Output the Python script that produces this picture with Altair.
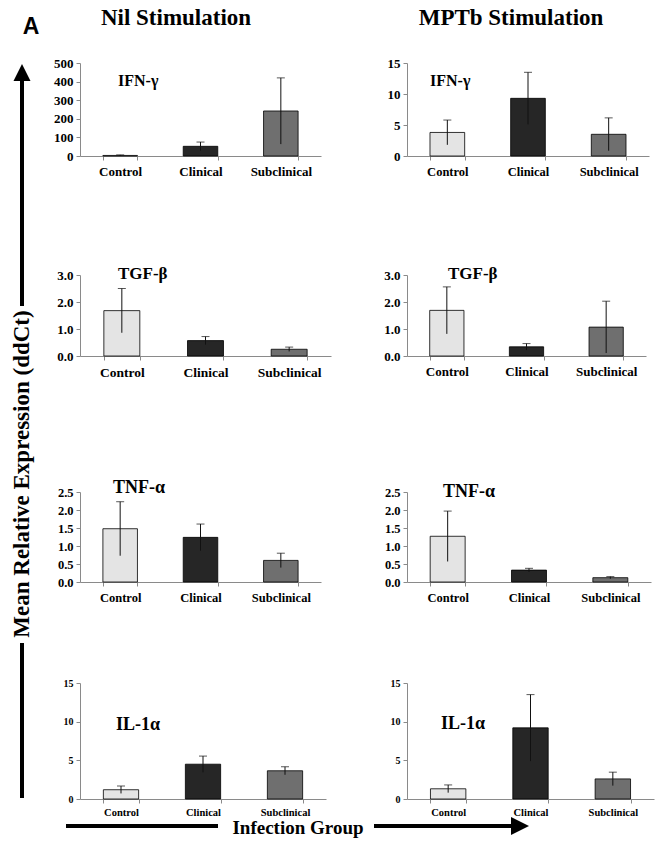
import altair as alt
import pandas as pd

groups = ["Control", "Clinical", "Subclinical"]
bar_colors = ["#e4e4e4", "#262626", "#6f6f6f"]

nil_ifn_mean = [3, 52, 242]
nil_ifn_err = [3, 23, 178]
mptb_ifn_mean = [3.8, 9.3, 3.5]
mptb_ifn_err = [2.0, 4.2, 2.65]
nil_tgf_mean = [1.68, 0.57, 0.25]
nil_tgf_err = [0.82, 0.15, 0.08]
mptb_tgf_mean = [1.69, 0.34, 1.07]
mptb_tgf_err = [0.87, 0.12, 0.96]
nil_tnf_mean = [1.48, 1.24, 0.60]
nil_tnf_err = [0.75, 0.37, 0.20]
mptb_tnf_mean = [1.27, 0.33, 0.12]
mptb_tnf_err = [0.70, 0.05, 0.03]
nil_il1_mean = [1.2, 4.5, 3.65]
nil_il1_err = [0.48, 1.05, 0.52]
mptb_il1_mean = [1.32, 9.2, 2.6]
mptb_il1_err = [0.5, 4.3, 0.87]

ticks_ifn_nil = [0, 100, 200, 300, 400, 500]
ticks_ifn_mptb = [0, 5, 10, 15]
ticks_tgf = [0.0, 1.0, 2.0, 3.0]
ticks_tnf = [0.0, 0.5, 1.0, 1.5, 2.0, 2.5]
ticks_il1 = [0, 5, 10, 15]

col_titles = ["Nil Stimulation", "MPTb Stimulation"]
y_title = "Mean Relative Expression (ddCt)"
x_title = "Infection Group"

SERIF = "Liberation Serif, Times New Roman, Times, DejaVu Serif, serif"
SANS = "Liberation Sans, Arial, Helvetica, sans-serif"
AX = "#8a8a8a"
one = pd.DataFrame({"k": [0]})


def txt(text, x, y, size, font=SERIF, angle=0, align="center"):
    return alt.Chart(one).mark_text(
        text=text, font=font, fontWeight="bold", fontSize=size, angle=angle,
        align=align, baseline="middle", color="black"
    ).encode(x=alt.value(x), y=alt.value(y))


def seg(x1, y1, x2, y2, w=4):
    return alt.Chart(one).mark_rule(color="black", strokeWidth=w).encode(
        x=alt.value(x1), x2=alt.value(x2), y=alt.value(y1), y2=alt.value(y2))


def head(x, y, shape, size):
    return alt.Chart(one).mark_point(
        shape=shape, filled=True, size=size, color="black", opacity=1,
        strokeWidth=0).encode(x=alt.value(x), y=alt.value(y))


def panel(label, means, errs, ticks, fmt, width, height, lab_dx, lab_dy,
          lab_size, xsize, ysize, xpad=5, extra=None):
    df = pd.DataFrame({"group": groups, "mean": means, "err": errs})
    df["lo"] = df["mean"] - df["err"]
    df["hi"] = df["mean"] + df["err"]
    xaxis = alt.Axis(title=None, labelAngle=0, labelFont=SERIF,
                     labelFontWeight="bold", labelFontSize=xsize,
                     labelColor="black", domainColor=AX, tickColor=AX,
                     tickSize=4, tickBand="extent", labelPadding=xpad)
    yaxis = alt.Axis(title=None, values=ticks, format=fmt, grid=False,
                     labelFont=SERIF, labelFontWeight="bold",
                     labelFontSize=ysize, labelColor="black",
                     domainColor=AX, tickColor=AX, tickSize=4,
                     labelPadding=3, labelOverlap=False)
    xs = alt.Scale(domain=groups, paddingInner=0.57, paddingOuter=0.285)
    ys = alt.Scale(domain=[ticks[0], ticks[-1]], nice=False)
    X = alt.X("group:N", sort=groups, scale=xs, axis=xaxis)
    base = alt.Chart(df)
    bars = base.mark_bar(stroke="black", strokeWidth=0.8).encode(
        x=X,
        y=alt.Y("mean:Q", scale=ys, axis=yaxis),
        fill=alt.Fill("group:N", scale=alt.Scale(domain=groups, range=bar_colors),
                      legend=None),
    )
    rules = base.mark_rule(color="#111", strokeWidth=1).encode(
        x=X, y=alt.Y("lo:Q", scale=ys, axis=yaxis), y2="hi:Q")
    caps = base.mark_tick(color="#111", size=8, thickness=1,
                          orient="horizontal").encode(
        x=X, y=alt.Y("hi:Q", scale=ys, axis=yaxis))
    lab = txt(label, lab_dx, lab_dy, lab_size, align="left")
    layers = [bars, rules, caps, lab] + (extra or [])
    return alt.layer(*layers).properties(width=width, height=height)


# figure decorations, positioned relative to the first panel
decor = [
    alt.Chart(one).mark_rule(strokeOpacity=0).encode(
        x=alt.value(-79), x2=alt.value(-79), y=alt.value(-62), y2=alt.value(-62)),
    txt("A", -49, -36, 23, font=SANS),
    txt(col_titles[0], 96, -45, 23),
    txt(col_titles[1], 431, -45, 23),
    head(-58, 9.5, "M0,-1L1,1L-1,1Z", 289),
    seg(-58, 15, -58, 243),
    txt(y_title, -58, 411, 23, angle=270),
    seg(-58, 580, -58, 735),
    seg(-14, 763, 138, 763),
    txt(x_title, 218, 765, 19),
    seg(294, 763, 433, 763),
    head(440, 763, "M1,0L-1,-1L-1,1Z", 324),
]


def spacer(h):
    return alt.Chart(one).mark_point(opacity=0).encode(
        x=alt.value(0), y=alt.value(0)).properties(width=1, height=h)


cells = [
    panel("IFN-γ", nil_ifn_mean, nil_ifn_err, ticks_ifn_nil, "d", 241, 93,
          38, 18, 16, 13, 13, extra=decor),
    panel("IFN-γ", mptb_ifn_mean, mptb_ifn_err, ticks_ifn_mptb, "d", 242, 93,
          23, 18, 16, 12.5, 13),
    spacer(119), spacer(119),
    panel("TGF-β", nil_tgf_mean, nil_tgf_err, ticks_tgf, ".1f", 251, 81,
          38, -1, 17, 13.5, 13),
    panel("TGF-β", mptb_tgf_mean, mptb_tgf_err, ticks_tgf, ".1f", 239, 81,
          41, -1, 17, 13, 13),
    spacer(136), spacer(136),
    panel("TNF-α", nil_tnf_mean, nil_tnf_err, ticks_tnf, ".1f", 241, 90,
          33, -4, 18, 12.5, 12.5),
    panel("TNF-α", mptb_tnf_mean, mptb_tnf_err, ticks_tnf, ".1f", 244, 90,
          36, 0, 18, 12.5, 12.5),
    spacer(101), spacer(101),
    panel("IL-1α", nil_il1_mean, nil_il1_err, ticks_il1, "d", 246, 116,
          36, 42, 18, 10.5, 10, xpad=4),
    panel("IL-1α", mptb_il1_mean, mptb_il1_err, ticks_il1, "d", 247, 116,
          34, 41, 18, 10.5, 10, xpad=4),
]

chart = alt.concat(
    *cells, columns=2, spacing={"row": 0, "column": 76}, bounds="flush"
).properties(
    padding={"left": 0, "top": 0, "right": 0, "bottom": 0},
    background="white",
).configure_view(stroke="transparent")

chart.save("out.html", embed_options={"renderer": "svg", "actions": False})
